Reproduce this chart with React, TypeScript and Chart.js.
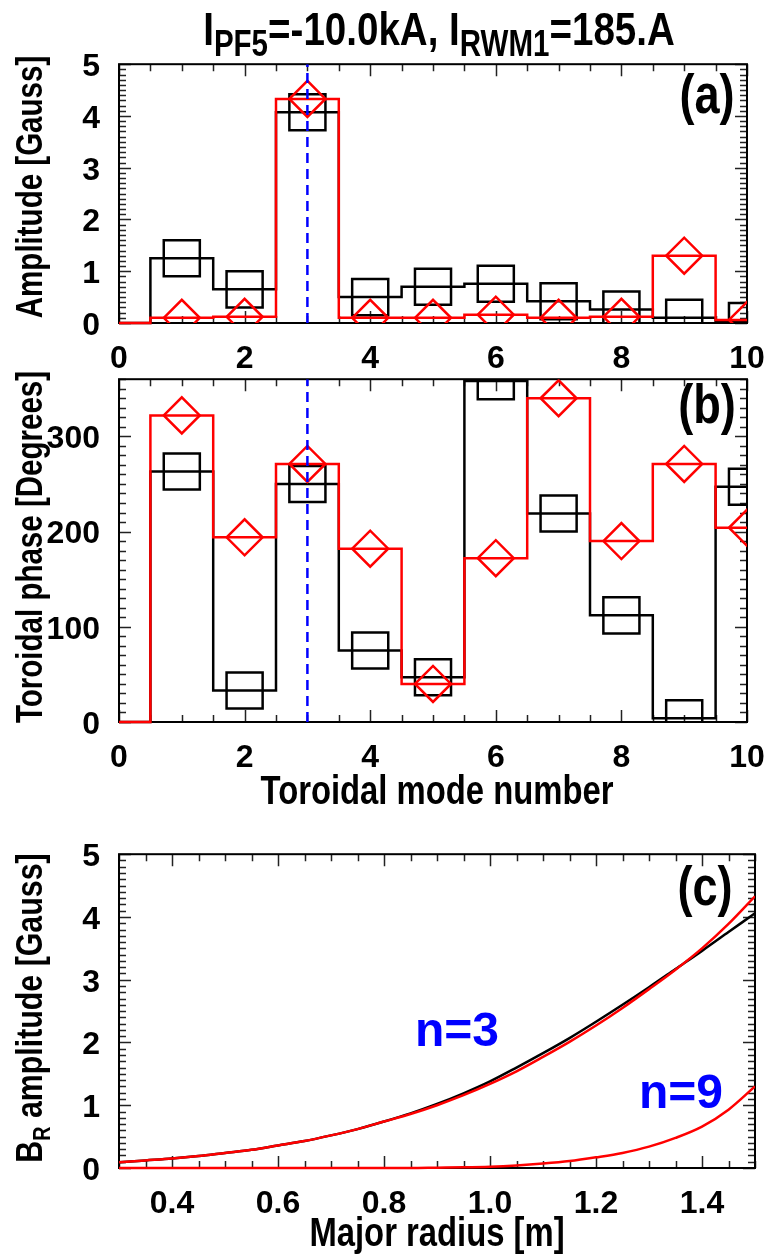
import React, { useEffect, useRef } from "react";
import { Chart, registerables } from "chart.js";

Chart.register(...registerables);

// ---------- data ----------
const MODE_N = [0, 1, 2, 3, 4, 5, 6, 7, 8, 9, 10];
const AMP_BLACK = [0, 1.25, 0.65, 4.07, 0.5, 0.7, 0.76, 0.42, 0.26, 0.1, 0.04];
const AMP_RED = [0, 0.1, 0.12, 4.33, 0.1, 0.1, 0.16, 0.1, 0.12, 1.3, 0.06];
const PHASE_BLACK = [0, 263, 33, 250, 75, 47, 358, 219, 112, 4, 247];
const PHASE_RED = [0, 322, 194, 271, 182, 40, 172, 340, 190, 271, 204];
const MARK_N = 3;

const X_TICKS_AB = [0, 2, 4, 6, 8, 10];
const Y_TICKS_A = [0, 1, 2, 3, 4, 5];
const Y_TICKS_B = [0, 100, 200, 300];

const R_VALUES = [0.3, 0.35, 0.4, 0.45, 0.5, 0.55, 0.6, 0.65, 0.7, 0.75, 0.8, 0.85, 0.9, 0.95, 1.0, 1.05, 1.1, 1.15, 1.2, 1.25, 1.3, 1.35, 1.4, 1.45, 1.5];
const BR_BLACK_N3 = [0.09, 0.12, 0.15, 0.19, 0.24, 0.29, 0.36, 0.43, 0.52, 0.62, 0.74, 0.87, 1.02, 1.19, 1.38, 1.6, 1.83, 2.07, 2.33, 2.6, 2.88, 3.17, 3.46, 3.76, 4.06];
const BR_RED_N3 = [0.09, 0.12, 0.15, 0.19, 0.24, 0.29, 0.36, 0.43, 0.52, 0.62, 0.74, 0.86, 1.0, 1.16, 1.34, 1.54, 1.77, 2.01, 2.27, 2.55, 2.85, 3.16, 3.5, 3.89, 4.33];
const BR_RED_N9 = [0, 0, 0, 0, 0, 0, 0, 0, 0, 0, 0, 0, 0.005, 0.01, 0.02, 0.04, 0.07, 0.11, 0.17, 0.24, 0.34, 0.48, 0.66, 0.93, 1.3];
const X_TICKS_C = [0.4, 0.6, 0.8, 1.0, 1.2, 1.4];
const Y_TICKS_C = [0, 1, 2, 3, 4, 5];

// ---------- styles ----------
const FONT_FAMILY = "'Liberation Sans', Arial, Helvetica, sans-serif";
const TICK_FONT = { family: FONT_FAMILY, size: 32, weight: "bold" as const };
const NARROW = 0.82;
const BLACK = "#000000";
const RED = "#ff0000";
const BLUE = "#0000ff";
const LINE_W = 2.5;

const PLOT_LEFT = 119;
const PAD_TOP = 24;
const PAD_RIGHT = 20;
const X_AXIS_H = 56;

const frameTicks = {
  id: "frameTicks",
  beforeDatasetsDraw(chart: any) {
    const o = chart.options.plugins.frameTicks;
    if (!o) return;
    const { ctx, chartArea } = chart;
    const { left, right, top, bottom } = chartArea;
    const xs = chart.scales.x;
    const ys = chart.scales.y;
    ctx.save();
    ctx.strokeStyle = "#222";
    ctx.lineWidth = 1.5;
    ctx.beginPath();
    const xTick = (v: number, len: number) => {
      const p = Math.round(xs.getPixelForValue(v)) + 0.5;
      ctx.moveTo(p, bottom);
      ctx.lineTo(p, bottom - len);
      ctx.moveTo(p, top);
      ctx.lineTo(p, top + len);
    };
    const yTick = (v: number, len: number) => {
      const p = Math.round(ys.getPixelForValue(v)) + 0.5;
      ctx.moveTo(left, p);
      ctx.lineTo(left + len, p);
      ctx.moveTo(right, p);
      ctx.lineTo(right - len, p);
    };
    const nx = Math.round((xs.max - xs.min) / o.xMinor);
    for (let i = 0; i <= nx; i++) xTick(xs.min + i * o.xMinor, 7);
    const ny = Math.round((ys.max - ys.min) / o.yMinor);
    for (let i = 0; i <= ny; i++) yTick(ys.min + i * o.yMinor, 7);
    o.xMajor.forEach((v: number) => xTick(v, 12));
    o.yMajor.forEach((v: number) => yTick(v, 12));
    ctx.stroke();
    ctx.lineWidth = 2;
    ctx.strokeStyle = "#000";
    ctx.strokeRect(left, top, right - left, bottom - top);
    ctx.restore();
  },
};

function makeScale(min: number, max: number, ticks: number[], horizontal: boolean, fmt: (v: number) => string) {
  return {
    type: "linear",
    min,
    max,
    grid: { display: false },
    border: { display: false },
    afterBuildTicks: (s: any) => {
      s.ticks = ticks.map((v) => ({ value: v }));
    },
    afterFit: (s: any) => {
      if (horizontal) s.height = X_AXIS_H;
      else s.width = PLOT_LEFT;
    },
    ticks: {
      font: TICK_FONT,
      color: "#000",
      padding: horizontal ? 9 : 11,
      maxRotation: 0,
      minRotation: 0,
      autoSkip: false,
      labelOffset: horizontal ? 0 : 3,
      callback: (v: any) => fmt(Number(v)),
    },
  };
}

const pts = (xs: number[], ys: number[]) => xs.map((x, i) => ({ x, y: ys[i] }));

function stepDataset(ys: number[], color: string, order: number) {
  return {
    data: pts(MODE_N, ys),
    showLine: true,
    stepped: "middle",
    borderColor: color,
    borderWidth: LINE_W,
    pointRadius: 0,
    pointHoverRadius: 0,
    clip: { left: 0, top: 0, right: 0, bottom: 2 },
    order,
  };
}

function markerDataset(ys: number[], color: string, style: string, radius: number, order: number) {
  return {
    data: pts(MODE_N.slice(1), ys.slice(1)),
    showLine: false,
    borderColor: color,
    backgroundColor: "rgba(0,0,0,0)",
    borderWidth: LINE_W,
    pointStyle: style,
    pointRadius: radius,
    pointHoverRadius: radius,
    pointBorderWidth: LINE_W,
    clip: 0,
    order,
  };
}

function markLine(ymax: number) {
  return {
    data: [
      { x: MARK_N, y: 0 },
      { x: MARK_N, y: ymax },
    ],
    showLine: true,
    borderColor: BLUE,
    borderWidth: LINE_W,
    borderDash: [10, 6],
    pointRadius: 0,
    pointHoverRadius: 0,
    clip: 0,
    order: 0,
  };
}

function baseOptions(xScale: any, yScale: any, ft: any) {
  return {
    responsive: false,
    animation: false,
    events: [],
    layout: { padding: { top: PAD_TOP, right: PAD_RIGHT, left: 0, bottom: 0 } },
    plugins: { legend: { display: false }, tooltip: { enabled: false }, frameTicks: ft },
    scales: { x: xScale, y: yScale },
  };
}

const intFmt = (v: number) => String(Math.round(v));

const configA = {
  type: "scatter",
  data: {
    datasets: [
      markLine(5),
      markerDataset(AMP_RED, RED, "rectRot", 18, 1),
      stepDataset(AMP_RED, RED, 2),
      markerDataset(AMP_BLACK, BLACK, "rect", 25.5, 3),
      stepDataset(AMP_BLACK, BLACK, 4),
    ],
  },
  options: baseOptions(
    makeScale(0, 10, X_TICKS_AB, true, intFmt),
    makeScale(0, 5, Y_TICKS_A, false, intFmt),
    { xMajor: X_TICKS_AB, xMinor: 0.5, yMajor: Y_TICKS_A, yMinor: 0.1 }
  ),
  plugins: [frameTicks],
};

const configB = {
  type: "scatter",
  data: {
    datasets: [
      markLine(360),
      markerDataset(PHASE_RED, RED, "rectRot", 18, 1),
      stepDataset(PHASE_RED, RED, 2),
      markerDataset(PHASE_BLACK, BLACK, "rect", 25.5, 3),
      stepDataset(PHASE_BLACK, BLACK, 4),
    ],
  },
  options: baseOptions(
    makeScale(0, 10, X_TICKS_AB, true, intFmt),
    makeScale(0, 360, Y_TICKS_B, false, intFmt),
    { xMajor: X_TICKS_AB, xMinor: 0.5, yMajor: Y_TICKS_B, yMinor: 10 }
  ),
  plugins: [frameTicks],
};

function curve(ys: number[], color: string, order: number) {
  return {
    data: pts(R_VALUES, ys),
    showLine: true,
    borderColor: color,
    borderWidth: LINE_W,
    pointRadius: 0,
    pointHoverRadius: 0,
    cubicInterpolationMode: "monotone",
    clip: { left: 0, top: 0, right: 0, bottom: 2 },
    order,
  };
}

const configC = {
  type: "scatter",
  data: {
    datasets: [curve(BR_RED_N9, RED, 0), curve(BR_RED_N3, RED, 1), curve(BR_BLACK_N3, BLACK, 2)],
  },
  options: baseOptions(
    makeScale(0.3, 1.5, X_TICKS_C, true, (v) => v.toFixed(1)),
    makeScale(0, 5, Y_TICKS_C, false, intFmt),
    { xMajor: X_TICKS_C, xMinor: 0.05, yMajor: Y_TICKS_C, yMinor: 0.1 }
  ),
  plugins: [frameTicks],
};

function Panel({ config, top, height }: { config: any; top: number; height: number }) {
  const ref = useRef<HTMLCanvasElement>(null);
  useEffect(() => {
    if (!ref.current) return;
    const chart = new Chart(ref.current, config);
    return () => chart.destroy();
  }, [config]);
  return (
    <canvas
      ref={ref}
      width={775}
      height={height}
      style={{ position: "absolute", left: 0, top, width: 775, height }}
    />
  );
}

const textBase: React.CSSProperties = {
  position: "absolute",
  fontFamily: FONT_FAMILY,
  fontWeight: "bold",
  color: "#000",
  whiteSpace: "nowrap",
};

function YTitle({ cx, cy, len, size, children }: { cx: number; cy: number; len: number; size: number; children: React.ReactNode }) {
  return (
    <div
      style={{
        ...textBase,
        left: cx - len / 2,
        top: cy - 24,
        width: len,
        height: 48,
        lineHeight: "48px",
        fontSize: size,
        textAlign: "center",
        transform: `rotate(-90deg) scaleX(${NARROW})`,
      }}
    >
      {children}
    </div>
  );
}

function CenterText({
  cx,
  cy,
  size,
  color,
  narrow = true,
  children,
}: {
  cx: number;
  cy: number;
  size: number;
  color?: string;
  narrow?: boolean;
  children: React.ReactNode;
}) {
  return (
    <div
      style={{
        ...textBase,
        left: cx - 300,
        top: cy - size * 0.6,
        width: 600,
        height: size * 1.2,
        lineHeight: `${size * 1.2}px`,
        fontSize: size,
        textAlign: "center",
        color: color || "#000",
        transform: narrow ? `scaleX(${NARROW})` : undefined,
      }}
    >
      {children}
    </div>
  );
}

const subStyle: React.CSSProperties = { fontSize: 36, position: "relative", top: 11 };

export default function App() {
  return (
    <div style={{ position: "absolute", left: 0, top: 0, width: 775, height: 1257, background: "#fff", overflow: "hidden" }}>
      <Panel config={configA} top={58 - PAD_TOP} height={PAD_TOP + 265 + X_AXIS_H} />
      <Panel config={configB} top={373 - PAD_TOP} height={PAD_TOP + 349 + X_AXIS_H} />
      <Panel config={configC} top={848 - PAD_TOP} height={PAD_TOP + 320 + X_AXIS_H} />

      <CenterText cx={439} cy={29} size={47}>
        I<span style={subStyle}>PF5</span>=-10.0kA, I<span style={subStyle}>RWM1</span>=185.A
      </CenterText>

      <CenterText cx={707} cy={94} size={55}>(a)</CenterText>
      <CenterText cx={707} cy={404} size={55}>(b)</CenterText>
      <CenterText cx={705} cy={886} size={55}>(c)</CenterText>

      <CenterText cx={457} cy={1030} size={48} color={BLUE} narrow={false}>n=3</CenterText>
      <CenterText cx={681} cy={1092} size={48} color={BLUE} narrow={false}>n=9</CenterText>

      <YTitle cx={30} cy={187} len={360} size={36}>Amplitude [Gauss]</YTitle>
      <YTitle cx={30} cy={547} len={480} size={36}>Toroidal phase [Degrees]</YTitle>
      <YTitle cx={30} cy={1008} len={440} size={37}>
        B<span style={{ fontSize: 24, position: "relative", top: 8 }}>R</span> amplitude [Gauss]
      </YTitle>

      <CenterText cx={437} cy={790} size={40}>Toroidal mode number</CenterText>
      <CenterText cx={437} cy={1232} size={40}>Major radius [m]</CenterText>
    </div>
  );
}
